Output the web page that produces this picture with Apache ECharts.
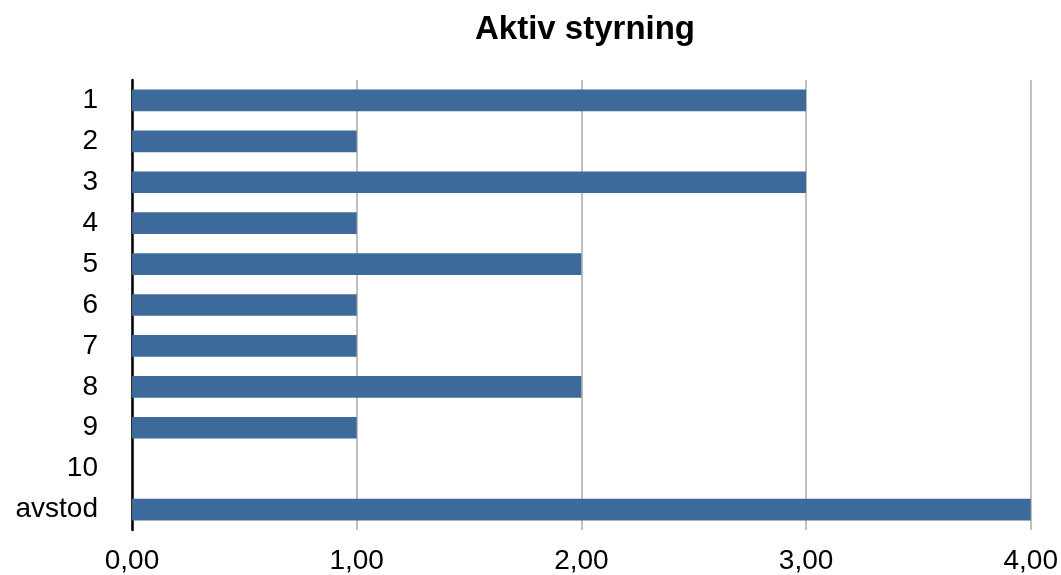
<!DOCTYPE html>
<html>
<head>
<meta charset="utf-8">
<script src="https://cdn.jsdelivr.net/npm/echarts@6/dist/echarts.min.js"></script>
<style>
  html, body { margin: 0; padding: 0; background: #fff; }
  #chart { width: 1061px; height: 575px; }
</style>
</head>
<body>
<div id="chart"></div>
<script>
// Answers per option for "Aktiv styrning"
const categories = ['1', '2', '3', '4', '5', '6', '7', '8', '9', '10', 'avstod'];
const values = [3, 1, 3, 1, 2, 1, 1, 2, 1, 0, 4];
const chartTitle = 'Aktiv styrning';

const chart = echarts.init(document.getElementById('chart'));
const font = '"Liberation Sans", Arial, Helvetica, sans-serif';

chart.setOption({
  animation: false,
  title: {
    text: chartTitle,
    left: 580,
    top: 8,
    textAlign: 'center',
    textStyle: { fontFamily: font, fontSize: 33, fontWeight: 'bold', color: '#000' }
  },
  grid: { left: 132, right: 30, top: 80, bottom: 43, containLabel: false },
  xAxis: {
    type: 'value',
    min: 0,
    max: 4,
    interval: 1,
    axisLine: { show: false },
    axisTick: { show: false },
    axisLabel: {
      fontFamily: font, fontSize: 28, color: '#000', margin: 17,
      formatter: v => v.toFixed(2).replace('.', ',')
    },
    splitLine: { show: true, lineStyle: { color: '#c0c0c0', width: 2 } }
  },
  yAxis: {
    type: 'category',
    data: categories,
    inverse: true,
    axisLine: { show: true, lineStyle: { color: '#000', width: 2.5 } },
    axisTick: { show: false },
    axisLabel: { fontFamily: font, fontSize: 28, color: '#000', margin: 34 }
  },
  series: [{
    type: 'bar',
    data: values,
    barWidth: '53%',
    itemStyle: { color: '#3d6a9b' }
  }]
});
</script>
</body>
</html>
